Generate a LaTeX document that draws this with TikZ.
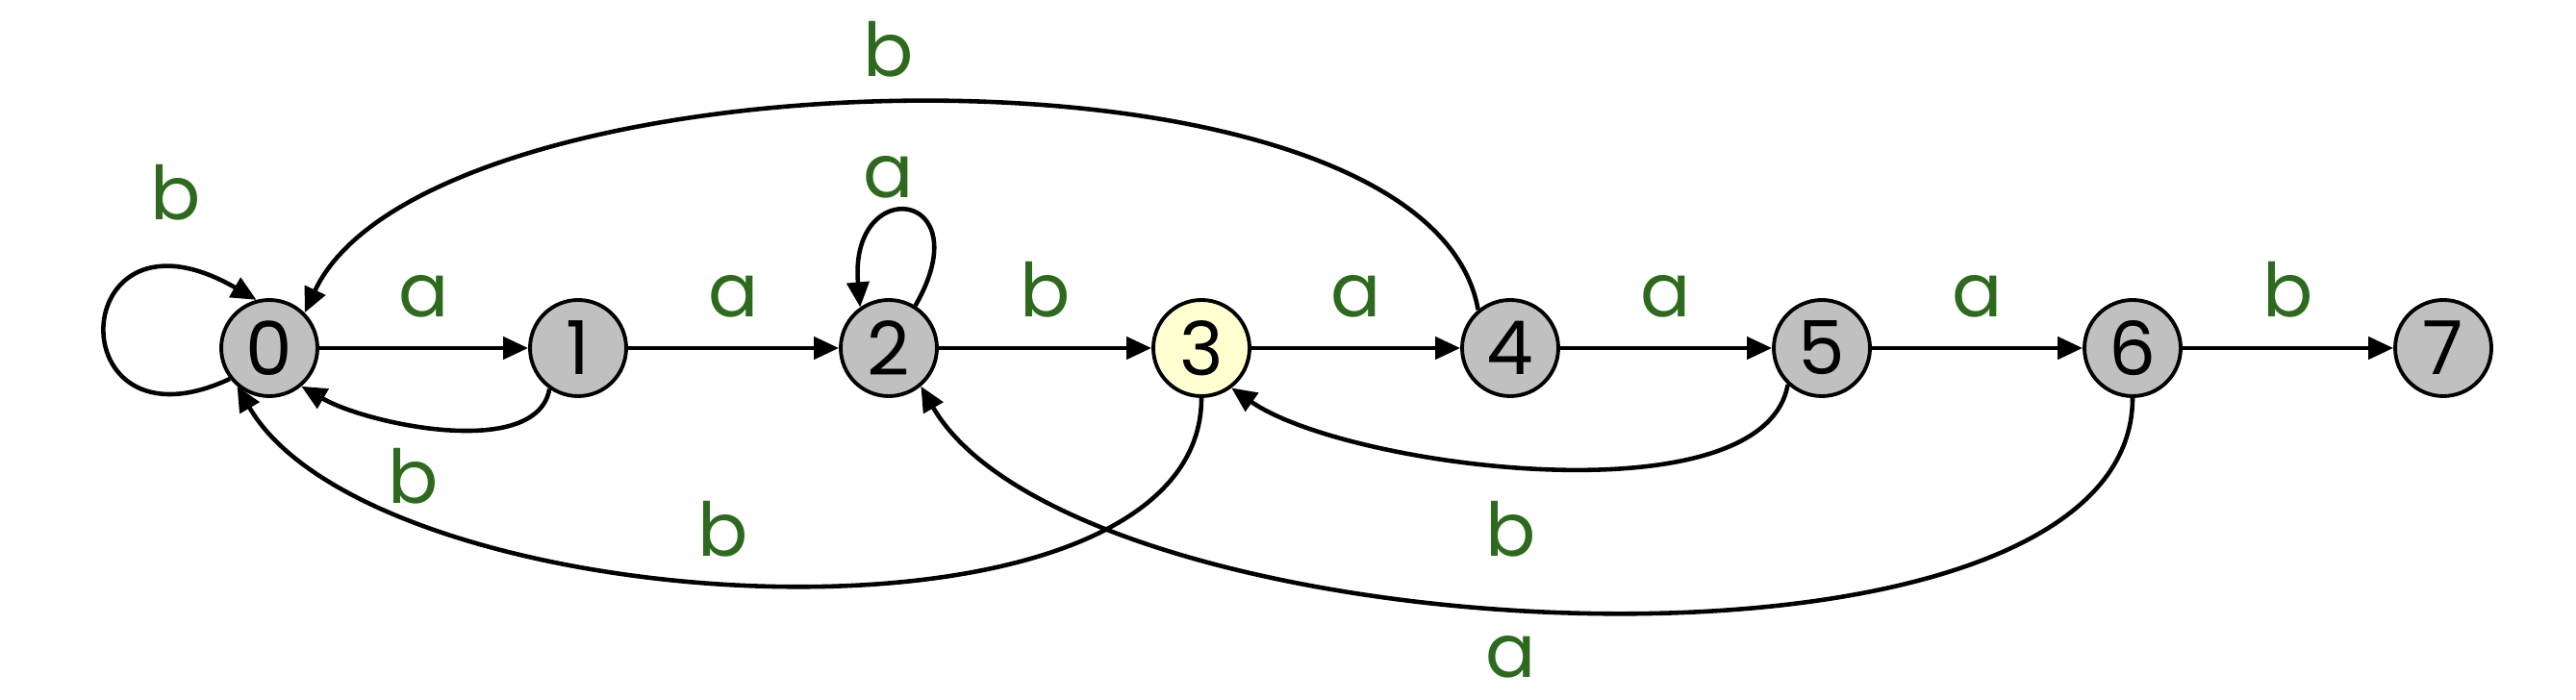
\documentclass[tikz,border=0pt]{standalone}
\usepackage{fontspec}
\setmainfont{Poppins}
\usetikzlibrary{arrows.meta}
\definecolor{stategray}{RGB}{192,192,192}
\definecolor{stateyellow}{RGB}{255,255,208}
\definecolor{labgreen}{RGB}{45,106,30}
\begin{document}
\begin{tikzpicture}[
	state/.style={circle, draw, line width=1.1pt, minimum size=1cm, inner sep=0pt, font=\fontsize{22}{26}\selectfont},
	arr/.style={-{Triangle[length=2.6mm,width=2.3mm]}, line width=1.3pt},
	lab/.style={text=labgreen, inner sep=0pt, font=\fontsize{22}{26}\selectfont}]
	\useasboundingbox (0,0) rectangle (26.78,7.28);
	\foreach \i/\x/\c in {0/2.80/stategray,1/6.01/stategray,2/9.24/stategray,3/12.49/stateyellow,4/15.70/stategray,5/18.94/stategray,6/22.17/stategray,7/25.40/stategray}
		\node[state, fill=\c] (n\i) at (\x,3.66) {\i};
	% forward transitions
	\foreach \i/\j/\l in {0/1/a,1/2/a,2/3/b,3/4/a,4/5/a,5/6/a,6/7/b}
		\draw[arr] (n\i) -- node[lab, above=3mm] (e\i) {\l} (n\j);
	% loops
	\draw[arr] (n0.218) .. controls +(205:2.0) and +(150:2.3) .. (n0.105);
	\node[lab] (l0) at (1.83,5.28) {b};
	\draw[arr] (n2.58) .. controls +(60:1.4) and +(95:1.4) .. (n2.125);
	\node[lab] (l2) at (9.24,5.44) {a};
	% back transitions
	\draw[arr] (n1.235) .. controls +(-100:0.75) and +(-30:0.8) .. (n0.-50);
	\node[lab] (b10) at (4.30,2.33) {b};
	\draw[arr] (n3.270) .. controls +(270:2.85) and +(-60:2.85) .. (n0.230);
	\node[lab] (b30) at (7.52,1.78) {b};
	\draw[arr] (n4.130) .. controls +(100:3.05) and +(65:3.05) .. (n0.45);
	\node[lab] (b40) at (9.24,6.77) {b};
	\draw[arr] (n5.227) .. controls +(-100:1.45) and +(-35:1.45) .. (n3.-53);
	\node[lab] (b53) at (15.71,1.78) {b};
	\draw[arr] (n6.270) .. controls +(270:3.25) and +(-60:3.25) .. (n2.-50);
	\node[lab] (b62) at (15.71,0.45) {a};
\end{tikzpicture}
\end{document}
